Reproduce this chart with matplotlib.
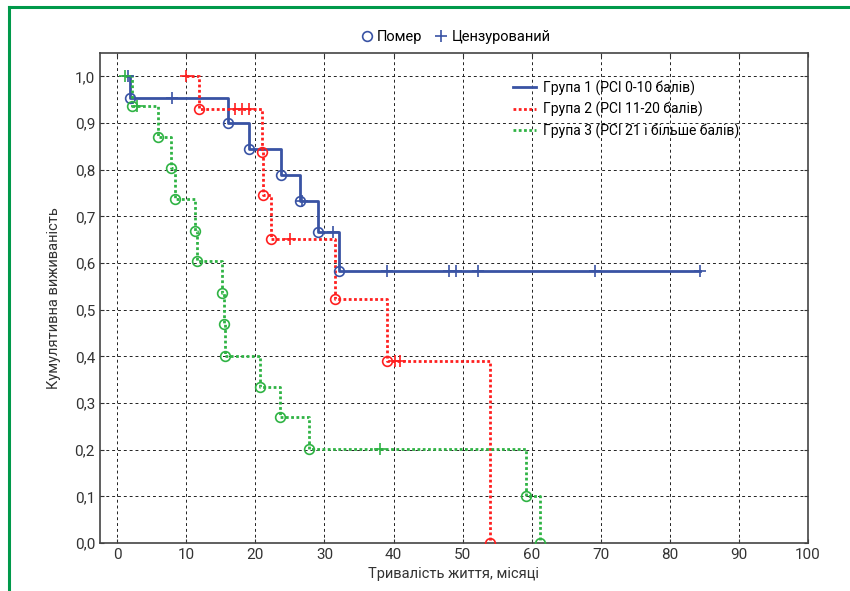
import numpy as np
import matplotlib
matplotlib.use("Agg")
import matplotlib.pyplot as plt
from matplotlib.lines import Line2D
from matplotlib.ticker import FuncFormatter

plt.rcParams['font.family'] = ['Roboto', 'DejaVu Sans']

# ---- data (months, cumulative survival)
g1_start = 1.6
g1_event_t = [1.9, 16.0, 19.1, 23.7, 26.5, 29.1, 32.1]
g1_event_s = [0.954, 0.899, 0.845, 0.789, 0.733, 0.666, 0.583]
g1_cens_t = [1.6, 7.9, 26.8, 31.2, 39.1, 48.1, 49.1, 52.2, 69.2, 84.4]

g2_start = 10.0
g2_event_t = [11.8, 20.9, 21.1, 22.2, 31.5, 39.0, 54.0]
g2_event_s = [0.929, 0.838, 0.746, 0.652, 0.522, 0.390, 0.0]
g2_cens_t = [10.0, 17.0, 18.0, 19.1, 25.0, 40.2, 40.9]

g3_start = 1.1
g3_event_t = [2.1, 5.9, 7.8, 8.4, 11.3, 11.6, 15.2, 15.5, 15.6, 20.6, 23.6, 27.7, 59.2, 61.2]
g3_event_s = [0.936, 0.869, 0.804, 0.738, 0.669, 0.604, 0.536, 0.470, 0.401,
              0.334, 0.270, 0.201, 0.101, 0.0]
g3_cens_t = [1.1, 2.9, 38.1]

labels = ["Група 1 (PCI 0-10 балів)", "Група 2 (PCI 11-20 балів)", "Група 3 (PCI 21 і більше балів)"]
colors = ["#3953a4", "#ff1f1f", "#2fb344"]
styles = ["-", (0, (1, 0.9)), (0, (1, 0.9))]


def surv_at(t, ev_t, ev_s):
    idx = np.searchsorted(ev_t, t, side="right") - 1
    return 1.0 if idx < 0 else ev_s[idx]


fig = plt.figure(figsize=(8.5, 5.91), dpi=100)
ax = fig.add_axes([0.1176, 0.0812, 0.8330, 0.8291])

groups = [
    (g1_start, g1_event_t, g1_event_s, g1_cens_t),
    (g2_start, g2_event_t, g2_event_s, g2_cens_t),
    (g3_start, g3_event_t, g3_event_s, g3_cens_t),
]

for (start, ev_t, ev_s, cens_t), color, ls, label in zip(groups, colors, styles, labels):
    end = max(max(ev_t), max(cens_t))
    xs = [start] + ev_t + [end]
    ys = [1.0] + ev_s + [ev_s[-1]]
    ax.plot(xs, ys, drawstyle="steps-post", color=color, lw=2.0, ls=ls, label=label, zorder=3)
    ax.plot(ev_t, ev_s, "o", mfc="none", mec=color, ms=7, mew=1.2, ls="none", zorder=4)
    cs = [surv_at(t, ev_t, ev_s) for t in cens_t]
    ax.plot(cens_t, cs, "+", color=color, ms=8.5, mew=1.2, ls="none", zorder=4)

ax.set_xlim(-2.5, 100)
ax.set_ylim(0, 1.05)
ax.set_xticks(np.arange(0, 101, 10))
ax.set_yticks(np.arange(0, 1.01, 0.1))
ax.yaxis.set_major_formatter(FuncFormatter(lambda v, p: ("%.1f" % v).replace(".", ",")))
ax.grid(True, color="#222222", ls=(0, (3, 3)), lw=0.7)
ax.tick_params(direction="in", length=3, labelsize=11, colors="#333333", top=True, right=True)
for s in ax.spines.values():
    s.set_color("#444444")
    s.set_linewidth(1.2)

ax.set_xlabel("Тривалість життя, місяці", fontsize=10.5, color="#333333", labelpad=4)
ax.set_ylabel("Кумулятивна виживаність", fontsize=10.5, color="#333333", labelpad=10)

ax.legend(loc="upper right", bbox_to_anchor=(0.92, 0.97), frameon=False, fontsize=10,
          handlelength=1.6, handletextpad=0.5, labelspacing=0.45)

# marker key above the plot
key = [Line2D([], [], marker="o", mfc="none", mec=colors[0], ls="none", ms=7, mew=1.2),
       Line2D([], [], marker="+", color=colors[0], ls="none", ms=8.5, mew=1.2)]
fig.legend(key, ["Помер", "Цензурований"], loc="center", bbox_to_anchor=(0.535, 0.937),
           ncol=2, frameon=False, fontsize=10.5, handletextpad=0.2, columnspacing=0.8,
           handlelength=1.0)

# green frame lines
fig.add_artist(Line2D([0.0106, 0.0106], [0.0, 0.989], color="#00994a", lw=2.2, transform=fig.transFigure))
fig.add_artist(Line2D([0.0106, 1.0], [0.989, 0.989], color="#00994a", lw=2.2, transform=fig.transFigure))

fig.savefig("out.png", dpi=100)
